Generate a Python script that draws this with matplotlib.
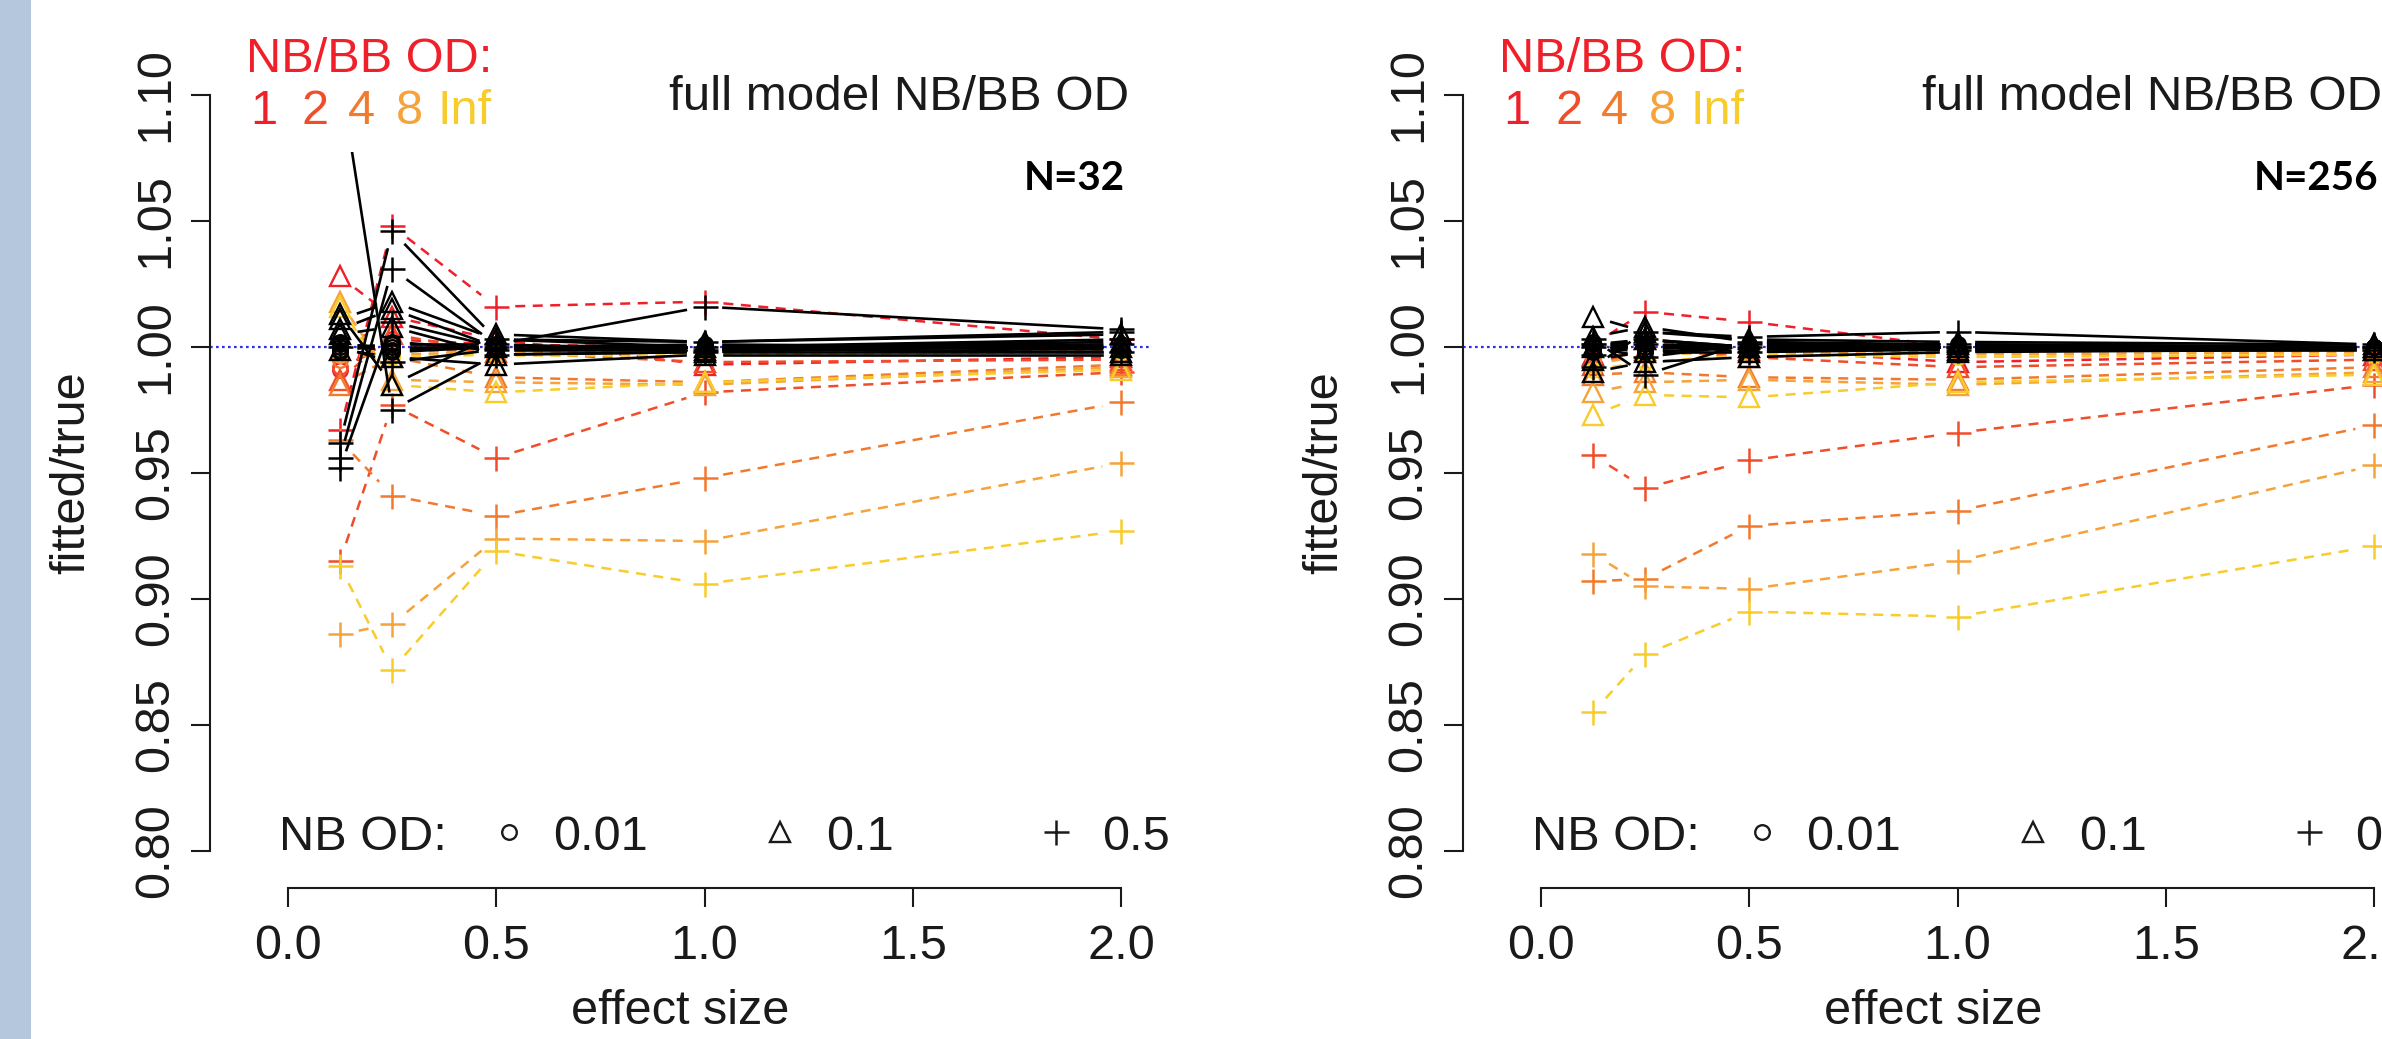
import numpy as np
import matplotlib
matplotlib.use("Agg")
import matplotlib.pyplot as plt
from matplotlib.patches import Rectangle

plt.rcParams['font.family'] = ['Liberation Sans', 'DejaVu Sans']

W, H = 2382, 1039
DPI = 100

# effect sizes and overdispersion settings
effect = [0.125, 0.25, 0.5, 1.0, 2.0]
od_labels = ['1', '2', '4', '8', 'Inf']
od_colors = ['#F0202A', '#F04E2A', '#F27A2E', '#F5A33A', '#F8CC2A']
nb_od_labels = ['0.01', '0.1', '0.5']
yticks = [0.80, 0.85, 0.90, 0.95, 1.00, 1.05, 1.10]
xticks = [0.0, 0.5, 1.0, 1.5, 2.0]

# N=32: simple model (coloured, one row per NB/BB OD) and full model (black)
circ_32 = [[0.991, 1.003, 1.001, 1.000, 1.001],
           [0.992, 1.001, 1.000, 0.999, 1.000],
           [0.995, 0.999, 0.999, 0.999, 0.999],
           [0.997, 0.997, 0.998, 0.998, 0.998],
           [0.999, 0.996, 0.997, 0.997, 0.998]]
tri_32 = [[1.028, 1.012, 1.003, 0.993, 0.996],
          [0.987, 1.005, 0.998, 0.994, 0.995],
          [0.985, 0.996, 0.988, 0.986, 0.993],
          [1.018, 0.987, 0.986, 0.985, 0.992],
          [1.016, 0.985, 0.982, 0.986, 0.991]]
plus_32 = [[0.967, 1.048, 1.016, 1.018, 1.003],
           [0.915, 0.977, 0.956, 0.982, 0.990],
           [0.963, 0.941, 0.933, 0.948, 0.978],
           [0.886, 0.890, 0.924, 0.923, 0.954],
           [0.913, 0.872, 0.919, 0.906, 0.927]]
full_circ_32 = [[1.001, 1.000, 1.000, 1.000, 1.000],
                [0.999, 1.001, 1.001, 0.999, 1.000],
                [1.000, 0.999, 1.000, 1.000, 0.999],
                [0.998, 1.002, 0.999, 1.000, 1.001],
                [1.002, 0.998, 1.000, 1.001, 1.000]]
full_tri_32 = [[1.013, 0.985, 1.005, 1.002, 1.005],
               [1.011, 1.018, 1.003, 1.000, 1.002],
               [1.007, 1.015, 1.000, 0.999, 1.000],
               [1.005, 1.008, 0.997, 0.998, 0.998],
               [0.999, 0.996, 0.993, 0.997, 0.997]]
full_plus_32 = [[0.962, 1.046, 1.003, 1.002, 1.006],
                [0.956, 1.031, 1.001, 1.016, 1.007],
                [0.952, 1.010, 1.000, 1.000, 1.003],
                [1.108, 0.975, 0.997, 0.998, 1.001],
                [1.000, 0.994, 0.999, 0.999, 0.998]]

# N=256
circ_256 = [[0.998, 1.002, 1.000, 1.000, 1.000],
            [0.997, 1.001, 1.000, 0.999, 1.000],
            [0.995, 0.999, 0.999, 0.998, 0.999],
            [0.993, 0.997, 0.998, 0.997, 0.998],
            [0.991, 0.994, 0.997, 0.996, 0.997]]
tri_256 = [[0.997, 1.003, 0.999, 0.994, 0.997],
           [0.993, 0.999, 0.996, 0.992, 0.995],
           [0.989, 0.990, 0.988, 0.987, 0.992],
           [0.982, 0.986, 0.987, 0.985, 0.990],
           [0.973, 0.981, 0.980, 0.986, 0.989]]
plus_256 = [[1.001, 1.014, 1.010, 1.000, 0.999],
            [0.957, 0.944, 0.955, 0.966, 0.985],
            [0.907, 0.908, 0.929, 0.935, 0.969],
            [0.918, 0.905, 0.904, 0.915, 0.953],
            [0.855, 0.878, 0.895, 0.893, 0.921]]
full_circ_256 = [[1.001, 1.000, 1.000, 1.000, 1.000],
                 [0.999, 1.001, 1.000, 1.000, 1.000],
                 [1.002, 0.999, 1.001, 1.000, 1.000],
                 [0.998, 1.003, 0.999, 1.000, 1.000],
                 [1.000, 0.998, 1.000, 1.001, 1.000]]
full_tri_256 = [[1.012, 1.006, 1.003, 1.002, 1.001],
                [1.004, 1.008, 1.002, 1.001, 1.000],
                [1.000, 1.003, 1.000, 1.000, 1.000],
                [0.995, 0.998, 0.998, 0.999, 0.999],
                [0.990, 0.994, 0.996, 0.998, 0.999]]
full_plus_256 = [[0.992, 1.006, 1.004, 1.006, 1.001],
                 [1.003, 0.989, 1.002, 1.000, 1.000],
                 [1.001, 1.003, 1.000, 0.999, 1.000],
                 [0.997, 1.001, 0.998, 1.000, 0.999],
                 [1.000, 0.996, 1.001, 1.001, 1.000]]

panels = [("N=32", 0, circ_32, tri_32, plus_32, full_circ_32, full_tri_32, full_plus_32),
          ("N=256", 1253, circ_256, tri_256, plus_256, full_circ_256, full_tri_256, full_plus_256)]

# pixel layout of one panel (left panel; right one is shifted)
AX_L, AX_R, AX_T, AX_B = 210, 1151, 58, 888
X0_PX, PX_PER_X = 288, 416.5
Y1_PX, PX_PER_Y = 347, 2520
GAP = 19  # px left open around points, like R type="b"
INK = '#1A1A1A'

MARKERS = {'o': dict(marker='o', ms=10.5, mew=1.7),
           '^': dict(marker='^', ms=15, mew=1.7),
           '+': dict(marker='+', ms=18, mew=1.8)}


def fx(px):
    return px / W


def fy(py):
    return 1 - py / H


def draw_b(ax, ys, color, ls, mk):
    pts = ax.transData.transform(np.column_stack([effect, ys]))
    inv = ax.transData.inverted()
    for p, q in zip(pts[:-1], pts[1:]):
        d = q - p
        L = np.hypot(*d)
        if L <= 2 * GAP:
            continue
        seg = inv.transform(np.array([p + d / L * GAP, q - d / L * GAP]))
        if ls == 'dash':
            ax.plot(seg[:, 0], seg[:, 1], color=color, lw=1.8, dashes=(4.0, 3.0))
        else:
            ax.plot(seg[:, 0], seg[:, 1], color=color, lw=1.9, ls='-')
    ax.plot(effect, ys, ls='none', color=color, mfc='none', **MARKERS[mk])


fig = plt.figure(figsize=(W / DPI, H / DPI), dpi=DPI)
fig.patches.append(Rectangle((0, 0), fx(31), 1, transform=fig.transFigure,
                             facecolor='#B5C7DC', edgecolor='none', zorder=0))

for title, dx, circ, tri, plus, fcirc, ftri, fplus in panels:
    ax = fig.add_axes([fx(AX_L + dx), fy(AX_B), (AX_R - AX_L) / W, (AX_B - AX_T) / H])
    ax.set_xlim((AX_L - X0_PX) / PX_PER_X, (AX_R - X0_PX) / PX_PER_X)
    ax.set_ylim(1 - (AX_B - Y1_PX) / PX_PER_Y, 1 + (Y1_PX - AX_T) / PX_PER_Y)
    ax.patch.set_alpha(0)

    for s in ['top', 'right']:
        ax.spines[s].set_visible(False)
    ax.spines['left'].set_bounds(yticks[0], yticks[-1])
    ax.spines['bottom'].set_bounds(xticks[0], xticks[-1])
    for s in ['left', 'bottom']:
        ax.spines[s].set_linewidth(1.5)
        ax.spines[s].set_color(INK)
    ax.set_yticks(yticks)
    ax.set_yticklabels([f"{v:.2f}" for v in yticks], rotation=90, va='center')
    ax.set_xticks(xticks)
    ax.set_xticklabels([f"{v:.1f}" for v in xticks])
    ax.tick_params(axis='both', direction='out', length=14, width=1.5,
                   labelsize=35, colors=INK)
    ax.tick_params(axis='y', pad=9)
    ax.tick_params(axis='x', pad=12)

    ax.axhline(1.0, color='#3030E8', lw=1.6, ls=(0, (1.2, 1.5)))

    for k in range(5):
        for rows, mk in [(circ, 'o'), (tri, '^'), (plus, '+')]:
            draw_b(ax, rows[k], od_colors[k], 'dash', mk)
    for k in range(5):
        for rows, mk in [(fcirc, 'o'), (ftri, '^'), (fplus, '+')]:
            draw_b(ax, rows[k], 'black', 'solid', mk)

    # axis titles
    fig.text(fx(72 + dx), fy(473), "fitted/true", rotation=90, ha='center',
             va='center', fontsize=35, color=INK)
    fig.text(fx(680 + dx), fy(1012), "effect size", ha='center', va='center',
             fontsize=35, color=INK)

    # colour key with a white box behind it
    fig.add_artist(Rectangle((fx(228 + dx), fy(152)), 280 / W, 140 / H,
                             transform=fig.transFigure, facecolor='white',
                             edgecolor='none', zorder=3))
    fig.text(fx(246 + dx), fy(60), "NB/BB OD:", ha='left', va='center',
             fontsize=35, color=od_colors[0], zorder=4)
    for lab, col, px in zip(od_labels, od_colors, [250, 302, 348, 396, 438]):
        fig.text(fx(px + dx), fy(112), lab, ha='left', va='center',
                 fontsize=35, color=col, zorder=4)

    fig.text(fx(1129 + dx), fy(98), "full model NB/BB OD", ha='right',
             va='center', fontsize=35.5, color=INK, zorder=4)
    fig.text(fx(1125 + dx), fy(178), title, ha='right', va='center',
             fontsize=29, fontfamily='Lato', fontweight='bold', color='black',
             zorder=4)

    # marker key for NB OD
    ky = 838
    fig.text(fx(279 + dx), fy(ky), "NB OD:", ha='left', va='center',
             fontsize=35, color=INK)
    for mk, lab, mpx, tpx in zip(['o', '^', '+'], nb_od_labels,
                                 [509, 780, 1056], [553, 826, 1102]):
        ax.plot([(mpx - X0_PX) / PX_PER_X], [1 - (ky - 6 - Y1_PX) / PX_PER_Y],
                ls='none', color=INK, mfc='none', clip_on=False,
                **MARKERS[mk])
        fig.text(fx(tpx + dx), fy(ky), lab, ha='left', va='center',
                 fontsize=35, color=INK)

fig.savefig("out.png", dpi=DPI, facecolor='white')
